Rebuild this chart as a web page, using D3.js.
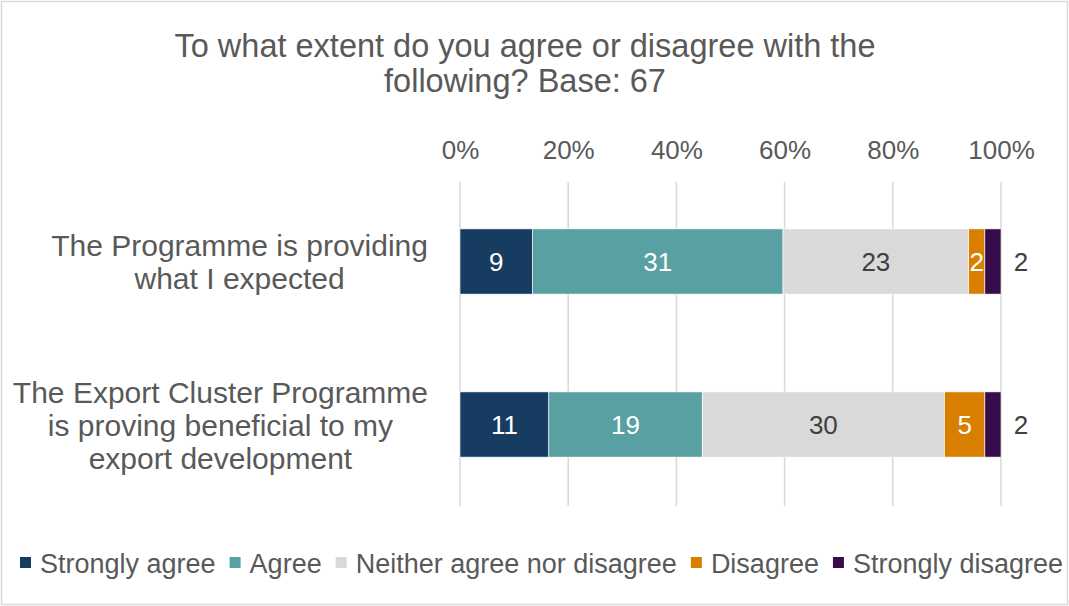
<!DOCTYPE html>
<html>
<head>
<meta charset="utf-8">
<script src="https://cdn.jsdelivr.net/npm/d3@7"></script>
<style>
  html, body { margin: 0; padding: 0; background: #fff; }
  svg { display: block; font-family: "Liberation Sans", Arial, sans-serif; }
</style>
</head>
<body>
<svg id="chart" width="1069" height="606"></svg>
<script>
// Survey responses (counts out of a base of 67)
const statements = [
  ["The Programme is providing", "what I expected"],
  ["The Export Cluster Programme", "is proving beneficial to my", "export development"]
];
const responseLevels = ["Strongly agree", "Agree", "Neither agree nor disagree", "Disagree", "Strongly disagree"];
const stronglyAgree    = [9, 11];
const agree            = [31, 19];
const neither          = [23, 30];
const disagree         = [2, 5];
const stronglyDisagree = [2, 2];
const levelColors = ["#173c61", "#58a0a2", "#d9d9d9", "#d97f00", "#360c4a"];
const labelColors = ["#ffffff", "#ffffff", "#404040", "#ffffff", "#404040"];
const percentTicks = [0, 0.2, 0.4, 0.6, 0.8, 1.0];
const titleLines = ["To what extent do you agree or disagree with the", "following? Base: 67"];

const seriesValues = [stronglyAgree, agree, neither, disagree, stronglyDisagree];
const rows = statements.map((s, i) => {
  const row = { id: i };
  responseLevels.forEach((lvl, k) => { row[lvl] = seriesValues[k][i]; });
  row.total = d3.sum(seriesValues, v => v[i]);
  return row;
});

const svg = d3.select("#chart");
const W = 1069, H = 606;
const textColor = "#595959";

// outer frame
svg.append("rect")
  .attr("x", 1.5).attr("y", 1.5).attr("width", W - 3).attr("height", H - 3)
  .attr("fill", "#fff").attr("stroke", "#d9d9d9").attr("stroke-width", 1.5);

// title
svg.append("g").selectAll("text").data(titleLines).join("text")
  .attr("x", 525).attr("y", (d, i) => 57 + i * 35)
  .attr("text-anchor", "middle")
  .attr("font-size", 32.5).attr("fill", textColor)
  .text(d => d);

const x = d3.scaleLinear().domain([0, 1]).range([460, 1001]);
const y = d3.scaleBand().domain(rows.map(r => r.id)).range([180, 506])
  .paddingInner(0.6).paddingOuter(0.3);

// gridlines
svg.append("g").selectAll("line").data(percentTicks).join("line")
  .attr("x1", d => x(d)).attr("x2", d => x(d))
  .attr("y1", 182).attr("y2", 506)
  .attr("stroke", "#d9d9d9").attr("stroke-width", 1.5);

// top axis
const axis = d3.axisTop(x).tickValues(percentTicks).tickFormat(d3.format(".0%")).tickSize(0).tickPadding(0);
const axisG = svg.append("g").attr("transform", "translate(0,159)").call(axis);
axisG.select(".domain").remove();
axisG.selectAll("text").attr("font-size", 26).attr("fill", textColor)
  .attr("font-family", "Liberation Sans, Arial, sans-serif");

// stacked bars
const stack = d3.stack().keys(responseLevels)
  .value((d, key) => d[key] / d.total);
const layers = stack(rows);

const layerG = svg.append("g").selectAll("g").data(layers).join("g")
  .attr("fill", (d, i) => levelColors[i]);
layerG.selectAll("rect").data(d => d).join("rect")
  .attr("x", d => x(d[0]))
  .attr("width", d => x(d[1]) - x(d[0]))
  .attr("y", d => y(d.data.id))
  .attr("height", y.bandwidth())
  .attr("stroke", "#ffffff").attr("stroke-width", 0.6);

// value labels
layers.forEach((layer, k) => {
  const key = layer.key;
  svg.append("g").selectAll("text").data(layer).join("text")
    .attr("x", d => k === responseLevels.length - 1 ? x(1) + 20 : (x(d[0]) + x(d[1])) / 2)
    .attr("y", d => y(d.data.id) + y.bandwidth() / 2 + 9.5)
    .attr("text-anchor", "middle")
    .attr("font-size", 26)
    .attr("fill", labelColors[k])
    .text(d => d.data[key]);
});

// category labels: block right-aligned to the plot, lines centred within it
const catG = svg.append("g").selectAll("text").data(rows).join("text")
  .attr("text-anchor", "middle")
  .attr("font-size", 30).attr("fill", textColor);
catG.each(function(d) {
  const lines = statements[d.id];
  const cy = y(d.id) + y.bandwidth() / 2;
  const lh = 33;
  const sel = d3.select(this);
  const spans = sel.selectAll("tspan").data(lines).join("tspan")
    .attr("y", (l, i) => cy + (i - (lines.length - 1) / 2) * lh + 11)
    .text(l => l);
  const maxW = d3.max(spans.nodes(), n => n.getComputedTextLength());
  spans.attr("x", 428 - maxW / 2);
});

// legend
const legend = svg.append("g");
let lx = 20;
responseLevels.forEach((lvl, i) => {
  const g = legend.append("g");
  g.append("rect").attr("x", lx).attr("y", 557).attr("width", 11).attr("height", 11)
    .attr("fill", levelColors[i]);
  const t = g.append("text").attr("x", lx + 20).attr("y", 573)
    .attr("font-size", 27).attr("fill", textColor).text(lvl);
  lx += 20 + t.node().getComputedTextLength() + 14;
});
</script>
</body>
</html>
